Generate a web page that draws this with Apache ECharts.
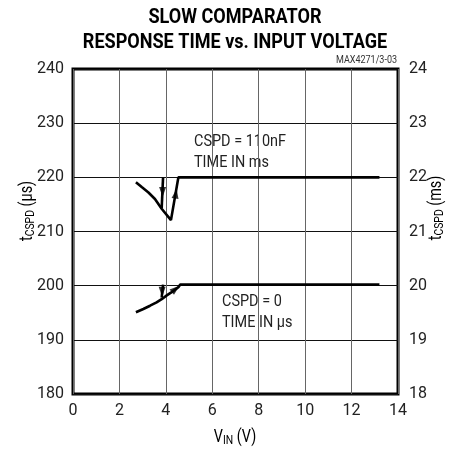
<!DOCTYPE html>
<html>
<head>
<meta charset="utf-8">
<script src="https://cdn.jsdelivr.net/npm/echarts@6/dist/echarts.min.js"></script>
<style>
  html, body { margin: 0; padding: 0; background: #fff; }
  #chart { width: 460px; height: 452px; }
</style>
</head>
<body>
<div id="chart"></div>
<script>
// values
var xTicks = [0, 2, 4, 6, 8, 10, 12, 14];
var leftTicks = [180, 190, 200, 210, 220, 230, 240];
var rightTicks = [18, 19, 20, 21, 22, 23, 24];

// CSPD = 110nF (time in ms, right scale)
var slowRise = [[2.71, 219.1], [2.96, 218.2], [3.25, 217.2], [3.53, 216.0], [3.82, 214.2], [4.22, 212.1], [4.54, 220], [13.2, 220]];
var slowFall = [[3.88, 220], [3.82, 214.3]];
// CSPD = 0 (time in us, left scale)
var fastRise = [[2.71, 195.1], [3.03, 195.7], [3.32, 196.3], [3.6, 196.9], [3.82, 197.5], [4.04, 198.2], [4.25, 198.8], [4.54, 199.7], [4.62, 200.2], [13.2, 200.2]];
var fastFall = [[3.88, 200.2], [3.82, 197.8]];
// arrow heads: [x, y, rotation]
var arrows = [[3.86, 217.3, 180], [4.43, 217.0, -9], [3.84, 198.9, 180], [4.42, 199.4, -50]];

var FONT = 'Roboto, "Liberation Sans", sans-serif';

var chart = echarts.init(document.getElementById('chart'));

function lineSeries(data) {
  return {
    type: 'line',
    data: data,
    symbol: 'none',
    lineStyle: { color: '#000', width: 2.6 },
    z: 5
  };
}

function note(x, y, text) {
  return { type: 'text', x: x, y: y, scaleX: 0.85,
    style: { text: text, font: '17px ' + FONT, fill: '#222', verticalAlign: 'middle' } };
}

// axis names with a subscript, squeezed along the text direction
function richName(x, y, main, sub, tail, rot) {
  return {
    type: 'text', x: x, y: y, rotation: rot, scaleX: 0.8,
    style: {
      text: '{t|' + main + '}{s|' + sub + '}{t|' + tail + '}', align: 'center', verticalAlign: 'middle',
      rich: {
        t: { fontFamily: FONT, fontSize: 18, color: '#222' },
        s: { fontFamily: FONT, fontSize: 13, color: '#222', padding: [7, 0, 0, 0] }
      }
    }
  };
}

var option = {
  animation: false,
  grid: { left: 73, right: 62, top: 69, bottom: 58, show: true, borderColor: '#000', borderWidth: 3, backgroundColor: 'transparent' },
  xAxis: {
    type: 'value', min: 0, max: 14, interval: 2,
    axisLine: { show: false }, axisTick: { show: false },
    axisLabel: { fontFamily: FONT, fontSize: 16, color: '#222', margin: 9,
      formatter: function (v) { return xTicks.indexOf(v) >= 0 ? String(v) : ''; } },
    splitLine: { show: true, lineStyle: { color: '#666', width: 1 } }
  },
  yAxis: [{
    type: 'value', min: 180, max: 240, interval: 10,
    axisLine: { show: false }, axisTick: { show: false },
    axisLabel: { fontFamily: FONT, fontSize: 16, color: '#222', margin: 9,
      formatter: function (v) { return leftTicks.indexOf(v) >= 0 ? String(v) : ''; } },
    splitLine: { show: true, lineStyle: { color: '#111', width: 1 } }
  }, {
    type: 'value', min: 18, max: 24, interval: 1, position: 'right',
    axisLine: { show: false }, axisTick: { show: false },
    axisLabel: { fontFamily: FONT, fontSize: 16, color: '#222', margin: 11,
      formatter: function (v) { return rightTicks.indexOf(v) >= 0 ? String(v) : ''; } },
    splitLine: { show: false }
  }],
  series: [
    lineSeries(slowRise),
    lineSeries(slowFall),
    lineSeries(fastRise),
    lineSeries(fastFall),
    {
      type: 'scatter',
      data: arrows.map(function (a) { return { value: [a[0], a[1]], symbolRotate: a[2] }; }),
      symbol: 'triangle',
      symbolSize: [7, 10],
      itemStyle: { color: '#000' },
      z: 6
    }
  ],
  graphic: [
    { type: 'text', x: 235, y: 18, scaleX: 0.86,
      style: { text: 'SLOW COMPARATOR', font: 'bold 21px ' + FONT, fill: '#000', align: 'center', verticalAlign: 'middle' } },
    { type: 'text', x: 235, y: 43, scaleX: 0.86,
      style: { text: 'RESPONSE TIME vs. INPUT VOLTAGE', font: 'bold 21px ' + FONT, fill: '#000', align: 'center', verticalAlign: 'middle' } },
    note(194, 142, 'CSPD = 110nF'),
    note(194, 163, 'TIME IN ms'),
    note(222, 302, 'CSPD = 0'),
    note(222, 323, 'TIME IN \u00b5s'),
    { type: 'text', x: 397, y: 60, scaleX: 0.9,
      style: { text: 'MAX4271/3-03', font: '10px ' + FONT, fill: '#333', align: 'right', verticalAlign: 'middle' } },
    richName(27, 211, 't', 'CSPD', ' (\u00b5s)', Math.PI / 2),
    richName(436, 208, 't', 'CSPD', ' (ms)', Math.PI / 2),
    richName(235, 437, 'V', 'IN', ' (V)', 0)
  ]
};

chart.setOption(option);
</script>
</body>
</html>
